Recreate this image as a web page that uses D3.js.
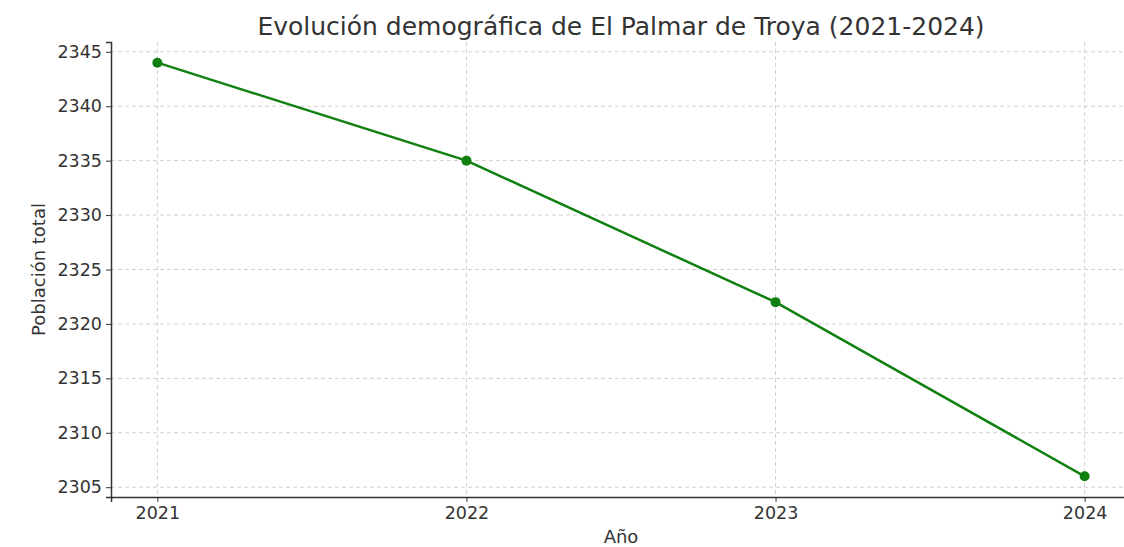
<!DOCTYPE html>
<html>
<head>
<meta charset="utf-8">
<script src="https://cdn.jsdelivr.net/npm/d3@7"></script>
<style>
  body { margin: 0; background: #fff; }
  svg { font-family: "DejaVu Sans", sans-serif; }
</style>
</head>
<body>
<div id="chart"></div>
<script>
// Données
const years = [2021, 2022, 2023, 2024];
const population = [2344, 2335, 2322, 2306];
const yTicks = [2305, 2310, 2315, 2320, 2325, 2330, 2335, 2340, 2345];

const width = 1124;
const height = 547;
const margin = { left: 111, right: -7, top: 42, bottom: 50 };
const font = '"DejaVu Sans", sans-serif';

const svg = d3.select('#chart')
    .append('svg')
    .attr('width', width)
    .attr('height', height);

const x = d3.scaleLinear()
    .domain([2021 - 0.15, 2024 + 0.15])
    .range([margin.left, width - margin.right]);

const y = d3.scaleLinear()
    .domain([2306 - 1.9, 2344 + 1.9])
    .range([height - margin.bottom, margin.top]);

// Grille
const grid = svg.append('g');
grid.selectAll('.gx')
    .data(years)
    .enter()
    .append('line')
    .attr('x1', d => x(d)).attr('x2', d => x(d))
    .attr('y1', margin.top).attr('y2', height - margin.bottom)
    .style('stroke', '#d0d0d0')
    .style('stroke-width', 1)
    .style('stroke-dasharray', '4,3');
grid.selectAll('.gy')
    .data(yTicks)
    .enter()
    .append('line')
    .attr('x1', margin.left).attr('x2', width)
    .attr('y1', d => y(d)).attr('y2', d => y(d))
    .style('stroke', '#d0d0d0')
    .style('stroke-width', 1)
    .style('stroke-dasharray', '4,3');

// Axes
const xAxis = svg.append('g')
    .attr('transform', `translate(0,${height - margin.bottom})`)
    .call(d3.axisBottom(x).tickValues(years).tickFormat(d3.format('d')).tickSizeOuter(0).tickSize(5).tickPadding(5));
const yAxis = svg.append('g')
    .attr('transform', `translate(${margin.left},0)`)
    .call(d3.axisLeft(y).tickValues(yTicks).tickFormat(d3.format('d')).tickSizeOuter(0).tickSize(5).tickPadding(4));

[xAxis, yAxis].forEach(a => {
    a.attr('font-family', font);
    a.select('.domain').style('stroke', '#333').style('stroke-width', 1.5);
    a.selectAll('.tick line').style('stroke', '#333');
    a.selectAll('.tick text').style('fill', '#333').style('font-size', '17.5px');
});

// Ligne
const line = d3.line()
    .x((d, i) => x(years[i]))
    .y(d => y(d));

svg.append('path')
    .datum(population)
    .attr('d', line)
    .style('fill', 'none')
    .style('stroke', '#108010')
    .style('stroke-width', 2.5);

svg.selectAll('.pt')
    .data(population)
    .enter()
    .append('circle')
    .attr('cx', (d, i) => x(years[i]))
    .attr('cy', d => y(d))
    .attr('r', 5)
    .style('fill', '#108010');

// Titres
svg.append('text')
    .attr('x', (margin.left + width - margin.right) / 2)
    .attr('y', 35)
    .attr('text-anchor', 'middle')
    .style('font-size', '25px')
    .style('fill', '#333')
    .text('Evolución demográfica de El Palmar de Troya (2021-2024)');

svg.append('text')
    .attr('x', (margin.left + width - margin.right) / 2)
    .attr('y', 543)
    .attr('text-anchor', 'middle')
    .style('font-size', '18px')
    .style('fill', '#333')
    .text('Año');

svg.append('text')
    .attr('transform', `translate(45,${(margin.top + height - margin.bottom) / 2}) rotate(-90)`)
    .attr('text-anchor', 'middle')
    .style('font-size', '18px')
    .style('fill', '#333')
    .text('Población total');
</script>
</body>
</html>
